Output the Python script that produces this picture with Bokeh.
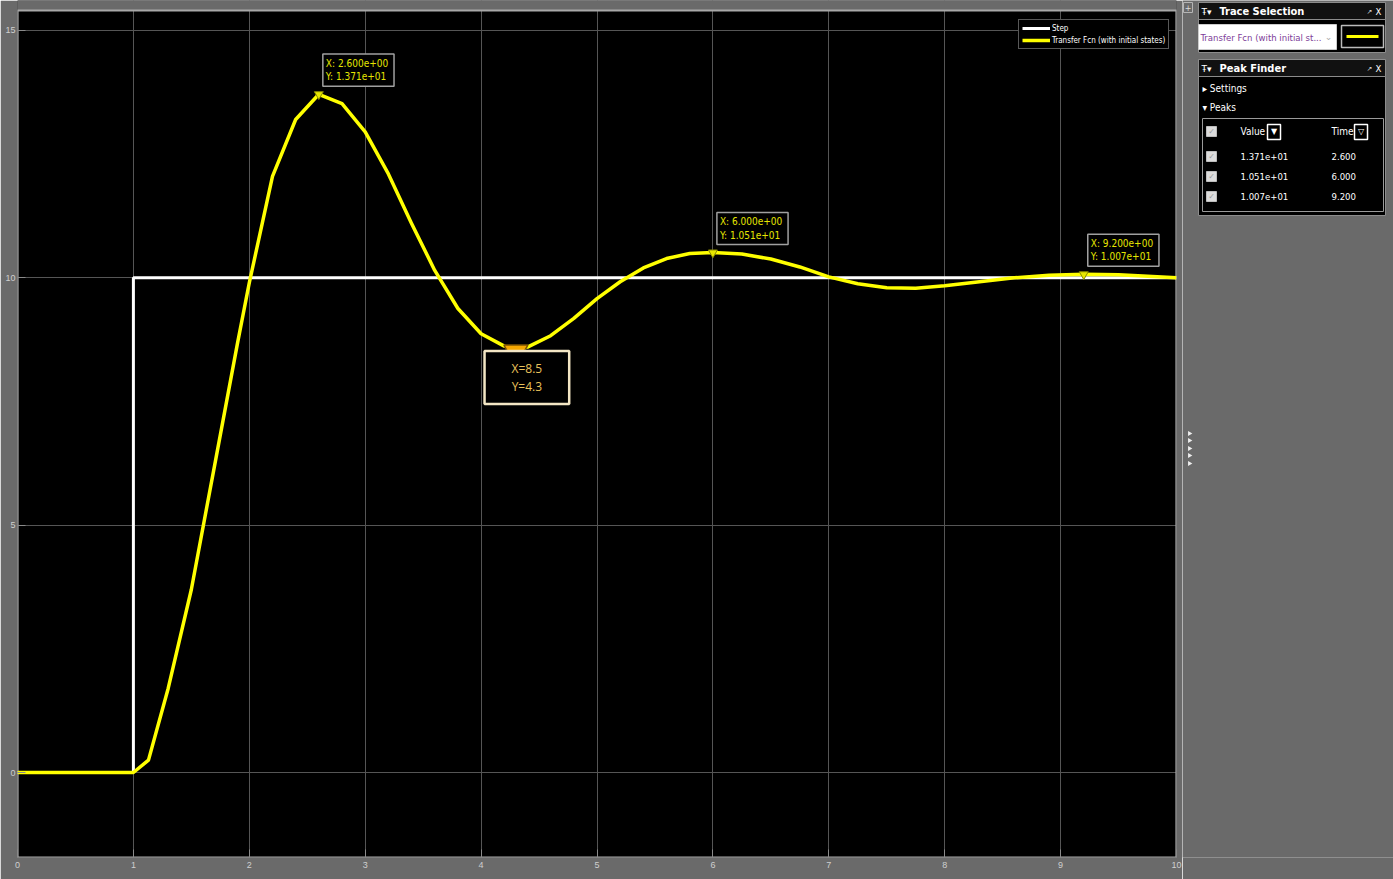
import math
from bokeh.plotting import figure
from bokeh.models import Range1d, Label, FixedTicker
from bokeh.layouts import row
from bokeh.core.properties import value
from bokeh.embed import file_html
from bokeh.resources import INLINE

# ---- scope data -------------------------------------------------------
step_t = [0.0, 1.0, 1.0, 10.0]
step_v = [0.0, 0.0, 10.0, 10.0]

resp_t = [0.0, 1.0, 1.13, 1.3, 1.5, 1.7, 1.9, 2.0, 2.2, 2.4, 2.6, 2.8, 3.0, 3.2,
          3.4, 3.6, 3.8, 4.0, 4.2, 4.3, 4.4, 4.6, 4.8, 5.0, 5.2, 5.4, 5.6, 5.8,
          6.0, 6.25, 6.5, 6.75, 7.0, 7.25, 7.5, 7.75, 8.0, 8.3, 8.6, 8.9, 9.2,
          9.5, 9.75, 10.0]
resp_v = [0.0, 0.0, 0.25, 1.7, 3.7, 6.2, 8.7, 9.9, 12.05, 13.2, 13.71, 13.52,
          12.95, 12.1, 11.1, 10.15, 9.38, 8.87, 8.62, 8.55, 8.6, 8.83, 9.18,
          9.58, 9.92, 10.2, 10.39, 10.49, 10.51, 10.48, 10.38, 10.22, 10.02,
          9.88, 9.8, 9.79, 9.84, 9.92, 10.0, 10.05, 10.07, 10.06, 10.03, 10.0]

peak_t = [2.6, 6.0, 9.2]
peak_v = [13.71, 10.51, 10.07]

note_t = 4.3
note_v = 8.5

x_ticks = [0, 1, 2, 3, 4, 5, 6, 7, 8, 9, 10]
y_ticks = [0, 5, 10, 15]

series_names = ["Step", "Transfer Fcn (with initial states)"]
trace_name = "Transfer Fcn (with initial st..."

# ---- styling ----------------------------------------------------------
NARROW = "'Liberation Sans Narrow', 'Arial Narrow', 'DejaVu Sans Condensed', sans-serif"
PAGE_BG = "#6a6a6a"
YELLOW = "#ffff00"
TIP_YELLOW = "#e6e600"

X_LO, X_HI = 0.0, 10.0
Y_LO, Y_HI = -1.718, 15.404   # visible axes limits
Y_TOP = 15.606                # the frame also covers the grey strip above the axes

p = figure(width=1182, height=879,
           x_range=Range1d(X_LO, X_HI), y_range=Range1d(Y_LO, Y_TOP),
           output_backend="svg", toolbar_location=None,
           min_border_left=17, min_border_right=6,
           min_border_top=0, min_border_bottom=22,
           background_fill_color="black", border_fill_color=PAGE_BG,
           outline_line_color=None)

p.xaxis.ticker = FixedTicker(ticks=x_ticks)
p.yaxis.ticker = FixedTicker(ticks=y_ticks)
for ax in (p.xaxis[0], p.yaxis[0]):
    ax.axis_line_color = None
    ax.major_tick_in = 8
    ax.major_tick_out = 0
    ax.major_tick_line_color = "#8a8a8a"
    ax.minor_tick_line_color = None
    ax.major_label_text_color = "#cfcfcf"
    ax.major_label_text_font = "Liberation Sans"
    ax.major_label_text_font_size = "9px"
p.xaxis.major_label_standoff = 4
p.yaxis.major_label_standoff = 2
p.grid.grid_line_color = "#555555"
p.grid.grid_line_width = 1

# grey strip above the axes and the axes box
p.quad(left=[X_LO], right=[X_HI], bottom=[Y_HI], top=[Y_TOP],
       fill_color=PAGE_BG, line_color=None)
p.quad(left=[X_LO], right=[X_HI], bottom=[Y_LO], top=[Y_HI],
       fill_color=None, line_color="#a8a8a8", line_width=2.2)

p.line(step_t, step_v, line_color="white", line_width=3,
       legend_label=series_names[0])
p.line(resp_t, resp_v, line_color=YELLOW, line_width=3.5, line_join="round",
       legend_label=series_names[1])

lg = p.legend[0]
lg.location = (1001, 808)
lg.margin = 0
lg.background_fill_color = "black"
lg.background_fill_alpha = 1
lg.border_line_color = "#b0b0b0"
lg.border_line_width = 1
lg.label_text_color = "white"
lg.label_text_font = NARROW
lg.label_text_font_size = "8px"
lg.glyph_width = 28
lg.glyph_height = 10
lg.label_height = 10
lg.spacing = 2
lg.padding = 3
lg.label_standoff = 2

# peak data tips
p.scatter(peak_t, peak_v, marker="inverted_triangle", size=9,
          fill_color=TIP_YELLOW, line_color="#8a8a00")
for t, v in zip(peak_t, peak_v):
    p.add_layout(Label(x=t, y=v, x_offset=4, y_offset=8,
                       text=f"X:  {t:.3e}\nY:  {v:.3e}",
                       text_align="left", text_baseline="bottom",
                       text_color=TIP_YELLOW, text_font=NARROW,
                       text_font_size="10px",
                       background_fill_color="black",
                       border_line_color="#a0a0a0", border_line_width=1.5,
                       padding=dict(left=3, right=3, top=4, bottom=4)))

# manual note at the trough
p.scatter([note_t], [note_v], marker="inverted_triangle", size=24,
          fill_color="#f5a700", line_color="#7a5200", line_width=1.5)
p.add_layout(Label(x=note_t, y=note_v, x_offset=11, y_offset=1,
                   text=f"X={note_v}\nY={note_t}",
                   text_align="center", text_baseline="top",
                   text_color="#e9c35b", text_font="Open Sans",
                   text_font_size="12px", text_line_height=1.05,
                   background_fill_color="black",
                   border_line_color="#f3e6c4", border_line_width=2.5,
                   padding=dict(left=27, right=27, top=9, bottom=9)))

# ---- side panel: trace selection and peak finder ---------------------
q = figure(width=211, height=879,
           x_range=Range1d(1182, 1393), y_range=Range1d(857, 0),
           output_backend="svg", toolbar_location=None,
           x_axis_location=None, y_axis_location=None,
           min_border_left=0, min_border_right=0,
           min_border_top=0, min_border_bottom=22,
           background_fill_color=PAGE_BG, border_fill_color=PAGE_BG,
           outline_line_color=None)
q.grid.visible = False

# expand button
q.quad(left=[1183], right=[1192], top=[2], bottom=[12],
       fill_color=PAGE_BG, line_color="#b5b5b5", line_width=1)
q.text([1187.5], [7], text=["+"], text_align="center", text_baseline="middle",
       text_color="#dddddd", text_font_size="8px", text_font=value("DejaVu Sans"))

# panel bodies and headers
q.quad(left=[1198, 1198], right=[1385, 1385], top=[2, 59], bottom=[52, 215],
       fill_color="black", line_color="#8c8c8c", line_width=1)
q.quad(left=[1198, 1198], right=[1385, 1385], top=[2, 59], bottom=[19, 76],
       fill_color="#111111", line_color="#8c8c8c", line_width=1)

panel_titles = ["Trace Selection", "Peak Finder"]
title_y = [11, 68]
q.text([1201, 1201], title_y, text=["Ŧ▾", "Ŧ▾"], text_baseline="middle",
       text_color="white", text_font_size="9px", text_font=value("DejaVu Sans"))
q.text([1219, 1219], title_y, text=panel_titles, text_baseline="middle",
       text_color="white", text_font_size="11px", text_font_style="bold",
       text_font=value(NARROW))
q.text([1366, 1366], title_y, text=["↗", "↗"], text_baseline="middle",
       text_color="#dddddd", text_font_size="7px", text_font=value("DejaVu Sans"))
q.text([1375, 1375], title_y, text=["X", "X"], text_baseline="middle",
       text_color="white", text_font_size="9.5px", text_font=value(NARROW))

# trace dropdown and colour swatch
q.quad(left=[1198], right=[1336], top=[24], bottom=[49],
       fill_color="white", line_color="#cccccc")
q.text([1200], [36.5], text=[trace_name], text_baseline="middle",
       text_color="#7d3c98", text_font_size="9.5px", text_font=value(NARROW))
q.text([1328], [36], text=["⌄"], text_align="center", text_baseline="middle",
       text_color="#aaaaaa", text_font_size="9px", text_font=value("DejaVu Sans"))
q.quad(left=[1341], right=[1383], top=[25], bottom=[47],
       fill_color="black", line_color="#bbbbbb", line_width=1.5)
q.line([1346, 1378], [36, 36], line_color=YELLOW, line_width=3)

# peak finder sections
q.text([1202, 1202], [88, 107], text=["▸ Settings", "▾ Peaks"],
       text_baseline="middle", text_color="white", text_font_size="10px",
       text_font=value(NARROW))
q.quad(left=[1202], right=[1383], top=[118], bottom=[211],
       fill_color=None, line_color="#9a9a9a", line_width=1)

row_y = [131, 156, 176, 196]
q.scatter([1211] * len(row_y), row_y, marker="square", size=10,
          fill_color="#dcdcdc", line_color="#bcbcbc")
q.text([1211] * len(row_y), row_y, text=["✓"] * len(row_y),
       text_align="center", text_baseline="middle", text_color="#9a9a9a",
       text_font_size="8px", text_font=value("DejaVu Sans"))

q.text([1240, 1331], [row_y[0], row_y[0]], text=["Value", "Time"],
       text_baseline="middle", text_color="white", text_font_size="10px",
       text_font=value(NARROW))
q.quad(left=[1267, 1354], right=[1280, 1367], top=[124, 124], bottom=[139, 139],
       fill_color="black", line_color="white", line_width=1.5)
q.text([1273.5, 1360.5], [131, 131], text=["▼", "▽"], text_align="center",
       text_baseline="middle", text_color="white", text_font_size="8px",
       text_font=value("DejaVu Sans"))

q.text([1240] * len(peak_v), row_y[1:], text=[f"{v:.3e}" for v in peak_v],
       text_baseline="middle", text_color="white", text_font_size="9.5px",
       text_font=value(NARROW))
q.text([1331] * len(peak_t), row_y[1:], text=[f"{t:.3f}" for t in peak_t],
       text_baseline="middle", text_color="white", text_font_size="9.5px",
       text_font=value(NARROW))

# splitter grip
grip_y = [433, 440, 448, 455, 463]
q.scatter([1189] * len(grip_y), grip_y, marker="triangle", size=5,
          angle=-math.pi / 2, fill_color="#eeeeee", line_color=None)

layout = row(p, q)
open("out.html", "w").write(file_html(layout, INLINE))
